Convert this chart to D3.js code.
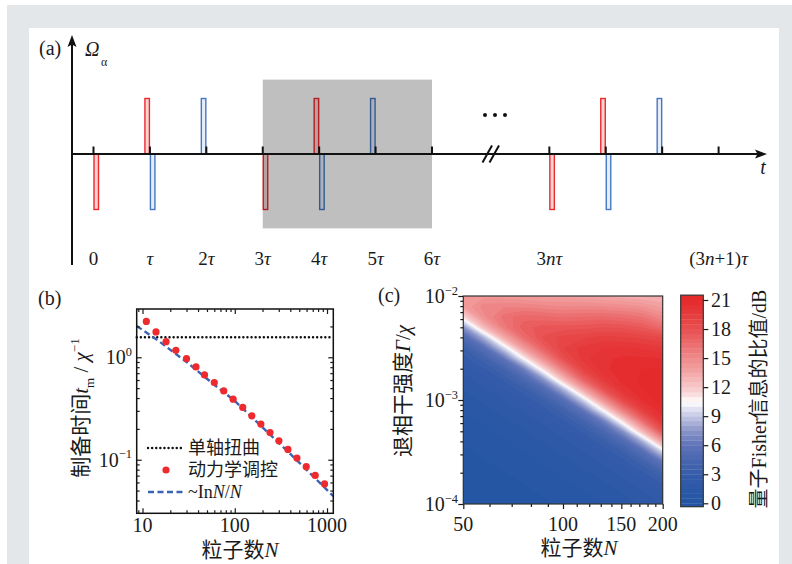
<!doctype html>
<html>
<head>
<meta charset="utf-8">
<script src="https://d3js.org/d3.v7.min.js"></script>
<style>
  body { margin: 0; background: #fff; }
  text { font-family: "Liberation Serif", "DejaVu Serif", serif; fill: #1a1a1a; }
  .cjk { font-family: "Liberation Serif", "Noto Sans CJK SC", sans-serif; }
</style>
</head>
<body>
<script>

// ---------- data ----------
// (a) pulse sequence, positions in units of tau (break after 6 tau)
var slots = [0, 1, 2, 3, 4, 5, 6, 8.08, 9.08, 10.08, 11.08];
var slotLabels = ["0", "τ", "2τ", "3τ", "4τ", "5τ", "6τ", "3nτ", "", "", "(3n+1)τ"];
var pulseAt = [0, 1, 1, 2, 3, 4, 4, 5, 8.08, 9.08, 9.08, 10.08];
var pulseAmp = [-1, 1, -1, 1, -1, 1, -1, 1, -1, 1, -1, 1];
var pulseCol = ["r", "r", "b", "b", "r", "r", "b", "b", "r", "r", "b", "b"];
var boxSlots = [3, 6];

// (b) preparation time vs particle number
var nMeas = [11, 14, 18, 23, 30, 38, 47, 60, 76, 96, 122, 153, 192, 241, 301, 377, 472, 596, 745, 940];
var tMeas = [2.24, 1.77, 1.42, 1.17, 0.969, 0.805, 0.673, 0.566, 0.470, 0.390, 0.324, 0.268, 0.223, 0.184, 0.153, 0.126, 0.104, 0.0855, 0.0703, 0.0580];
var nFit = [8.65, 15, 30, 60, 100, 200, 400, 700, 1170];
var tFit = [2.02, 1.44, 0.90, 0.539, 0.375, 0.207, 0.114, 0.0697, 0.044];
var tTwist = 1.57;
var bXTicks = [10, 100, 1000];
var bYTicks = [0.1, 1];
var bYLabels = ["−1", "0"];

// (c) QFI ratio (dB) on grid: rows Gamma (top -> bottom), cols N
var nGrid = [50, 57.4, 66.0, 75.8, 87.1, 100, 114.9, 132.0, 151.6, 174.1, 200];
var gGrid = [1e-2, 7.94e-3, 6.31e-3, 5.01e-3, 3.98e-3, 3.16e-3, 2.51e-3, 2.0e-3, 1.58e-3, 1.26e-3,
             1e-3, 7.94e-4, 6.31e-4, 5.01e-4, 3.98e-4, 3.16e-4, 2.51e-4, 2.0e-4, 1.58e-4, 1.26e-4, 1e-4];
var ratio = [
  [14.2, 14.3, 14.2, 14.0, 13.8, 13.8, 13.6, 13.4, 13.2, 13.0, 13.0],
  [14.0, 15.2, 15.4, 15.4, 15.2, 15.0, 15.1, 15.0, 14.8, 14.5, 13.8],
  [11.5, 14.8, 16.2, 16.8, 16.6, 16.4, 16.5, 16.6, 16.4, 16.0, 15.0],
  [7.4, 12.5, 15.7, 17.3, 17.7, 17.7, 17.8, 18.0, 17.9, 17.5, 16.5],
  [4.9, 8.3, 13.2, 16.4, 18.1, 18.7, 18.9, 19.2, 19.1, 18.9, 18.5],
  [3.5, 5.4, 9.3, 14.0, 17.1, 19.0, 19.7, 20.0, 20.1, 19.9, 19.6],
  [2.75, 3.8, 6.0, 10.4, 14.8, 18.1, 19.8, 20.4, 20.6, 20.6, 20.5],
  [2.2, 2.9, 4.1, 6.6, 11.3, 15.8, 19.0, 20.3, 20.9, 21.0, 21.0],
  [1.8, 2.3, 3.1, 4.5, 7.4, 12.5, 17.0, 19.6, 20.8, 21.1, 21.2],
  [1.5, 1.9, 2.45, 3.3, 4.9, 8.3, 13.5, 17.8, 20.2, 21.0, 21.3],
  [1.25, 1.6, 2.0, 2.6, 3.5, 5.4, 9.3, 14.5, 18.6, 20.6, 21.3],
  [1.05, 1.3, 1.65, 2.1, 2.75, 3.8, 6.0, 10.4, 15.5, 19.2, 21.0],
  [0.85, 1.1, 1.4, 1.7, 2.2, 2.9, 4.1, 6.6, 11.4, 16.6, 20.2],
  [0.7, 0.9, 1.15, 1.45, 1.8, 2.3, 3.1, 4.5, 7.4, 12.8, 18.0],
  [0.55, 0.72, 0.95, 1.2, 1.5, 1.9, 2.45, 3.3, 4.9, 8.3, 14.0],
  [0.42, 0.58, 0.77, 1.0, 1.25, 1.6, 2.0, 2.6, 3.5, 5.4, 9.3],
  [0.32, 0.45, 0.62, 0.8, 1.05, 1.3, 1.65, 2.1, 2.75, 3.8, 6.0],
  [0.24, 0.35, 0.48, 0.65, 0.85, 1.1, 1.4, 1.7, 2.2, 2.9, 4.1],
  [0.17, 0.26, 0.38, 0.5, 0.7, 0.9, 1.15, 1.45, 1.8, 2.3, 3.1],
  [0.1, 0.18, 0.28, 0.4, 0.55, 0.72, 0.95, 1.2, 1.5, 1.9, 2.45],
  [0.02, 0.12, 0.2, 0.3, 0.42, 0.58, 0.77, 1.0, 1.25, 1.6, 2.0]
];
var cXTicks = [50, 100, 150, 200];
var cYTicks = [1e-2, 1e-3, 1e-4];
var cYLabels = ["−2", "−3", "−4"];
var cbTicks = [0, 3, 6, 9, 12, 15, 18, 21];

// ---------- helpers ----------
// parts: [text, "cjk" | "it" | "sub" | "sup" ...]
function rich(t, parts, size) {
  var shift = 0;
  parts.forEach(function (p) {
    var k = p[1] || "";
    var s = t.append("tspan").text(p[0]);
    var target = k.indexOf("sub") >= 0 ? size * 0.3 : (k.indexOf("sup") >= 0 ? -size * 0.42 : 0);
    if (target !== shift) { s.attr("dy", target - shift); shift = target; }
    if (k.indexOf("cjk") >= 0) s.attr("class", "cjk");
    if (k.indexOf("it") >= 0) s.attr("font-style", "italic");
    if (k.indexOf("sub") >= 0 || k.indexOf("sup") >= 0) s.attr("font-size", size * 0.62);
  });
  return t;
}
function mathParts(s) {
  return s.split("").map(function (c) { return [c, /[τn]/.test(c) ? "it" : ""]; });
}
function label(g, x, y, size, anchor, parts, rot) {
  var t = g.append("text").attr("font-size", size).attr("text-anchor", anchor || "middle");
  if (rot) t.attr("transform", "translate(" + x + "," + y + ") rotate(-90)");
  else t.attr("x", x).attr("y", y);
  return rich(t, parts, size);
}
function ticks(g, axis, vals, size) {
  g.call(axis.tickValues(vals).tickSize(size).tickFormat(""));
  g.select(".domain").remove();
  g.selectAll("line").attr("stroke", "#1a1a1a").attr("stroke-width", 1.2);
}
function minorLog(lo, hi) {
  var out = [];
  for (var e = Math.floor(Math.log10(lo)); e <= Math.ceil(Math.log10(hi)); e++)
    for (var m = 2; m <= 9; m++) { var v = m * Math.pow(10, e); if (v > lo && v < hi) out.push(v); }
  return out;
}

// ---------- canvas ----------
var svg = d3.select("body").append("svg").attr("width", 792).attr("height", 564);
svg.append("rect").attr("x", 7).attr("y", 5).attr("width", 785).attr("height", 559).attr("fill", "#e3e7ea");
svg.append("rect").attr("x", 29).attr("y", 28).attr("width", 750).attr("height", 536).attr("fill", "#fff");

// ---------- (a) ----------
var ga = svg.append("g");
var ax = d3.scaleLinear().domain([0, 6]).range([93.5, 432]);
var ay = d3.scaleLinear().domain([-1, 1]).range([209.5, 98.5]);
var y0 = ay(0);

var pulses = pulseAt.map(function (s, i) { return { s: s, a: pulseAmp[i], c: pulseCol[i] }; });
ga.selectAll(".pulse").data(pulses).enter().append("rect")
  .attr("class", "pulse")
  .attr("x", function (d) { return d.a > 0 ? ax(d.s) - 5 : ax(d.s) + 0.5; })
  .attr("y", function (d) { return Math.min(ay(d.a), y0); })
  .attr("width", 4.5)
  .attr("height", function (d) { return Math.abs(ay(d.a) - y0); })
  .attr("fill", function (d) { return d.c === "r" ? "#fad3d3" : "#e6edf8"; })
  .attr("stroke", function (d) { return d.c === "r" ? "#ec2a2e" : "#4677c2"; })
  .attr("stroke-width", 1.4);

// shaded period
ga.append("rect")
  .attr("x", ax(boxSlots[0])).attr("width", ax(boxSlots[1]) - ax(boxSlots[0]))
  .attr("y", ay(1.34)).attr("height", ay(-1.34) - ay(1.34))
  .attr("fill", "#000").attr("opacity", 0.25);

// axes
ga.append("line").attr("x1", 72).attr("x2", 758).attr("y1", y0).attr("y2", y0)
  .attr("stroke", "#111").attr("stroke-width", 2);
ga.append("path").attr("d", "M767," + y0 + " L755," + (y0 - 4.5) + " L757.5," + y0 + " L755," + (y0 + 4.5) + "Z").attr("fill", "#111");
ga.append("line").attr("x1", 72).attr("x2", 72).attr("y1", 265).attr("y2", 44)
  .attr("stroke", "#111").attr("stroke-width", 2);
ga.append("path").attr("d", "M72,35 L67.5,47 L72,44.5 L76.5,47Z").attr("fill", "#111");

ga.selectAll(".tk").data(slots).enter().append("line")
  .attr("x1", function (d) { return ax(d); }).attr("x2", function (d) { return ax(d); })
  .attr("y1", y0 - 7.5).attr("y2", y0).attr("stroke", "#111").attr("stroke-width", 2);

// axis break and ellipsis
[0, 7].forEach(function (dx) {
  ga.append("line").attr("x1", 482.5 + dx).attr("y1", y0 + 8.5).attr("x2", 492 + dx).attr("y2", y0 - 8.5)
    .attr("stroke", "#111").attr("stroke-width", 2);
});
[485, 495, 505].forEach(function (x) {
  ga.append("circle").attr("cx", x).attr("cy", 115).attr("r", 2).attr("fill", "#111");
});

slots.forEach(function (s, i) {
  if (slotLabels[i]) label(ga, ax(s), 265, 19, "middle", mathParts(slotLabels[i]));
});
label(ga, 763, 174, 20, "middle", [["t", "it"]]);
label(ga, 39, 55, 20, "start", [["(a)", ""]]);
label(ga, 85, 56, 20, "start", [["Ω", "it"]]);
label(ga, 101, 66, 12, "start", [["α", ""]]);

// ---------- (b) ----------
var gb = svg.append("g");
var bx = d3.scaleLog().domain([8.65, 1170]).range([136.7, 333.3]);
var by = d3.scaleLog().domain([0.030, 2.96]).range([513.3, 309]);
var bxr = bx.range(), byr = by.range();

gb.append("line").attr("x1", bxr[0]).attr("x2", bxr[1]).attr("y1", by(tTwist)).attr("y2", by(tTwist))
  .attr("stroke", "#111").attr("stroke-width", 2.4).attr("stroke-dasharray", "0.1,4").attr("stroke-linecap", "round");
gb.append("path").datum(nFit.map(function (n, i) { return [n, tFit[i]]; }))
  .attr("d", d3.line().x(function (d) { return bx(d[0]); }).y(function (d) { return by(d[1]); }))
  .attr("fill", "none").attr("stroke", "#3b63b3").attr("stroke-width", 2.4).attr("stroke-dasharray", "6,3.5");
gb.selectAll(".dot").data(nMeas).enter().append("circle")
  .attr("cx", function (d) { return bx(d); })
  .attr("cy", function (d, i) { return by(tMeas[i]); })
  .attr("r", 3.6).attr("fill", "#ee2a2e");

gb.append("rect").attr("x", bxr[0]).attr("y", byr[1]).attr("width", bxr[1] - bxr[0]).attr("height", byr[0] - byr[1])
  .attr("fill", "none").attr("stroke", "#111").attr("stroke-width", 1.5);

var bxMinor = minorLog(8.65, 1170), byMinor = minorLog(0.030, 2.96);
ticks(gb.append("g").attr("transform", "translate(0," + byr[0] + ")"), d3.axisBottom(bx), bXTicks, -5);
ticks(gb.append("g").attr("transform", "translate(0," + byr[0] + ")"), d3.axisBottom(bx), bxMinor, -3);
ticks(gb.append("g").attr("transform", "translate(0," + byr[1] + ")"), d3.axisTop(bx), bXTicks, -5);
ticks(gb.append("g").attr("transform", "translate(0," + byr[1] + ")"), d3.axisTop(bx), bxMinor, -3);
ticks(gb.append("g").attr("transform", "translate(" + bxr[0] + ",0)"), d3.axisLeft(by), bYTicks, -5);
ticks(gb.append("g").attr("transform", "translate(" + bxr[0] + ",0)"), d3.axisLeft(by), byMinor, -3);
ticks(gb.append("g").attr("transform", "translate(" + bxr[1] + ",0)"), d3.axisRight(by), bYTicks, -5);
ticks(gb.append("g").attr("transform", "translate(" + bxr[1] + ",0)"), d3.axisRight(by), byMinor, -3);

bXTicks.forEach(function (v) { label(gb, bx(v), 532, 20, "middle", [[String(v), ""]]); });
bYTicks.forEach(function (v, i) { label(gb, 132, by(v) + 7, 20, "end", [["10", ""], [bYLabels[i], "sup"]]); });

// legend
gb.append("line").attr("x1", 148).attr("x2", 183).attr("y1", 448).attr("y2", 448)
  .attr("stroke", "#111").attr("stroke-width", 2.4).attr("stroke-dasharray", "0.1,4").attr("stroke-linecap", "round");
gb.append("circle").attr("cx", 166).attr("cy", 470).attr("r", 3.6).attr("fill", "#ee2a2e");
gb.append("line").attr("x1", 148).attr("x2", 183).attr("y1", 492).attr("y2", 492)
  .attr("stroke", "#3b63b3").attr("stroke-width", 2.4).attr("stroke-dasharray", "6,3.5");
label(gb, 188, 454, 18, "start", [["单轴扭曲", "cjk"]]);
label(gb, 188, 476, 18, "start", [["动力学调控", "cjk"]]);
label(gb, 188, 498, 18, "start", [["~In", ""], ["N", "it"], ["/", ""], ["N", "it"]]);

label(gb, 38, 305, 20, "start", [["(b)", ""]]);
label(gb, 240, 557, 21, "middle", [["粒子数", "cjk"], ["N", "it"]]);
label(gb, 88, 408, 21, "middle", [["制备时间", "cjk"], ["t", "it"], ["m", "sub"], [" / ", ""], ["χ", "it"], ["−1", "sup"]], true);

// ---------- (c) ----------
var gc = svg.append("g");
var cx = d3.scaleLog().domain([50, 200]).range([463.3, 662.7]);
var cy = d3.scaleLog().domain([1e-4, 1e-2]).range([504, 296]);
var cxr = cx.range(), cyr = cy.range();

var color = d3.scaleLinear()
  .domain([0, 3, 6, 7.5, 9, 10, 10.5, 11, 12, 13.5, 15, 16.5, 18, 19.5, 21])
  .range(["#2355a4", "#365ca9", "#5d72b8", "#8a96c9", "#c3c7e3", "#eaebf5", "#ffffff", "#fbe6e6",
          "#f7c7c8", "#f3a6a7", "#ef8a8b", "#eb6b6d", "#e85051", "#e63b3d", "#e52a2c"])
  .clamp(true);

svg.append("clipPath").attr("id", "clipC").append("rect")
  .attr("x", cxr[0]).attr("y", cyr[1]).attr("width", cxr[1] - cxr[0]).attr("height", cyr[0] - cyr[1]);

var flat = [].concat.apply([], ratio);
var levels = d3.range(-0.5, 22, 0.5);
var bands = d3.contours().size([nGrid.length, gGrid.length]).thresholds(levels)(flat);
var gxs = d3.scaleLinear().domain([0.5, nGrid.length - 0.5]).range([cx(nGrid[0]), cx(nGrid[nGrid.length - 1])]);
var gys = d3.scaleLinear().domain([0.5, gGrid.length - 0.5]).range([cy(gGrid[0]), cy(gGrid[gGrid.length - 1])]);
var proj = d3.geoTransform({ point: function (x, y) { this.stream.point(gxs(x), gys(y)); } });
gc.append("g").attr("clip-path", "url(#clipC)")
  .selectAll("path").data(bands).enter().append("path")
  .attr("d", d3.geoPath(proj))
  .attr("fill", function (d) { return color(d.value + 0.25); });

gc.append("rect").attr("x", cxr[0]).attr("y", cyr[1]).attr("width", cxr[1] - cxr[0]).attr("height", cyr[0] - cyr[1])
  .attr("fill", "none").attr("stroke", "#333").attr("stroke-width", 1.2);

ticks(gc.append("g").attr("transform", "translate(0," + cyr[0] + ")"), d3.axisBottom(cx), cXTicks, 5);
ticks(gc.append("g").attr("transform", "translate(0," + cyr[0] + ")"), d3.axisBottom(cx), d3.range(60, 200, 10).filter(function (v) { return v !== 100 && v !== 150; }), 3);
ticks(gc.append("g").attr("transform", "translate(" + cxr[0] + ",0)"), d3.axisLeft(cy), cYTicks, 5);
ticks(gc.append("g").attr("transform", "translate(" + cxr[0] + ",0)"), d3.axisLeft(cy), minorLog(1e-4, 1e-2), 3);

cXTicks.forEach(function (v) { label(gc, cx(v), 531, 20, "middle", [[String(v), ""]]); });
cYTicks.forEach(function (v, i) { label(gc, 458, cy(v) + 7, 20, "end", [["10", ""], [cYLabels[i], "sup"]]); });

// colorbar
var cb = d3.scaleLinear().domain([0, 21]).range([503.3, 300]);
var cbX = 680.7, cbW = 22.6, cbLo = -0.35, cbHi = 21.5;
var cbBands = d3.range(-0.5, 21.5, 0.5);
gc.selectAll(".cbb").data(cbBands).enter().append("rect")
  .attr("x", cbX).attr("width", cbW)
  .attr("y", function (d) { return cb(Math.min(d + 0.5, cbHi)); })
  .attr("height", function (d) { return cb(Math.max(d, cbLo)) - cb(Math.min(d + 0.5, cbHi)) + 0.3; })
  .attr("fill", function (d) { return color(d + 0.25); });
gc.append("rect").attr("x", cbX).attr("width", cbW).attr("y", cb(cbHi)).attr("height", cb(cbLo) - cb(cbHi))
  .attr("fill", "none").attr("stroke", "#333").attr("stroke-width", 1.2);
ticks(gc.append("g").attr("transform", "translate(" + (cbX + cbW) + ",0)"), d3.axisRight(cb), cbTicks, 5);
cbTicks.forEach(function (v) { label(gc, 711, cb(v) + 7, 20, "start", [[String(v), ""]]); });

label(gc, 378, 302, 20, "start", [["(c)", ""]]);
label(gc, 579, 555, 21, "middle", [["粒子数", "cjk"], ["N", "it"]]);
label(gc, 410, 391, 21, "middle", [["退相干强度", "cjk"], ["Γ", "it"], ["/", ""], ["χ", "it"]], true);
label(gc, 766, 399, 20, "middle", [["量子", "cjk"], ["Fisher", ""], ["信息的比值", "cjk"], ["/dB", ""]], true);

</script>
</body>
</html>
